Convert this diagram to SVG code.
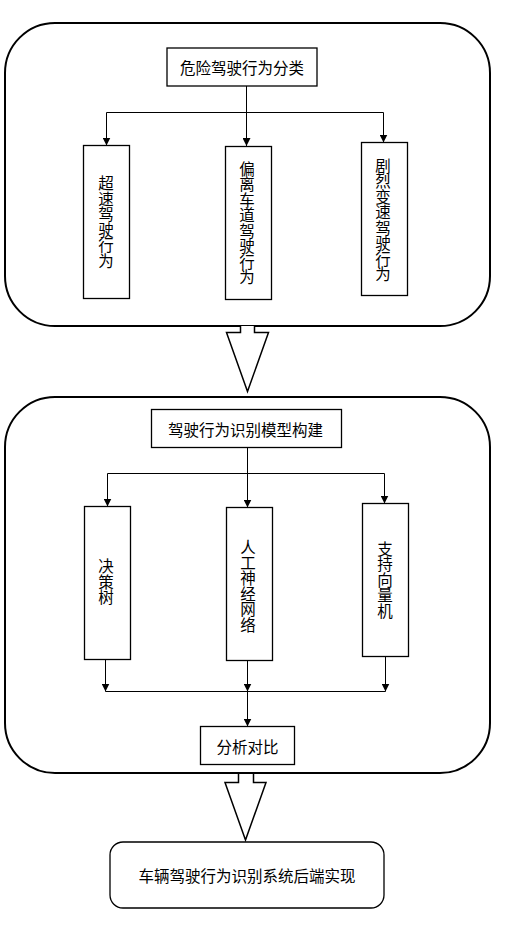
<svg xmlns="http://www.w3.org/2000/svg" width="516" height="930" viewBox="0 0 516 930">
<style>
.panel{fill:#fff;stroke:#000;stroke-width:2}
.box{fill:#fff;stroke:#000;stroke-width:1.3}
.t{font-family:"Noto Sans CJK SC","Liberation Sans",sans-serif;font-size:15.5px;fill:#000;text-anchor:middle;dominant-baseline:central}
.v{writing-mode:vertical-rl;letter-spacing:0}
.ln{fill:none;stroke:#000;stroke-width:1}
.big{fill:#fff;stroke:#000;stroke-width:1.5;stroke-linejoin:miter}
</style>
<defs>
<marker id="ah" markerWidth="8" markerHeight="8" refX="8" refY="4" orient="auto" markerUnits="userSpaceOnUse" viewBox="0 0 8 8">
<path d="M0,0 L8,4 L0,8 Z" fill="#000"/>
</marker>
</defs>
<rect width="516" height="930" fill="#fff"/>
<g id="panel1"><rect class="panel" x="5" y="23" width="485" height="303" rx="50" ry="50"/></g>
<g id="panel2"><rect class="panel" x="5" y="397" width="485" height="376" rx="50" ry="50"/></g>
<g id="n-classify"><rect class="box" x="167" y="48" width="150" height="38"/><text class="t" x="242" y="67">危险驾驶行为分类</text></g>
<g id="n-speeding"><rect class="box" x="83.5" y="145.5" width="46" height="153"/><text class="t v" x="106" y="222">超速驾驶行为</text></g>
<g id="n-lane"><rect class="box" x="225.5" y="146.5" width="46" height="153"/><text class="t v" x="247" y="223">偏离车道驾驶行为</text></g>
<g id="n-accel"><rect class="box" x="361.5" y="142.5" width="46" height="153"/><text class="t v" x="383" y="220">剧烈变速驾驶行为</text></g>
<g id="n-model"><rect class="box" x="151.5" y="409.5" width="190" height="38"/><text class="t" x="245.5" y="428.5">驾驶行为识别模型构建</text></g>
<g id="n-dt"><rect class="box" x="84.5" y="506.5" width="46" height="153"/><text class="t v" x="106" y="582">决策树</text></g>
<g id="n-ann"><rect class="box" x="226.5" y="507.5" width="46" height="153"/><text class="t v" x="248" y="586">人工神经网络</text></g>
<g id="n-svm"><rect class="box" x="362.5" y="503.5" width="46" height="153"/><text class="t v" x="385" y="580">支持向量机</text></g>
<g id="n-compare"><rect class="box" x="200.5" y="726.5" width="94" height="38"/><text class="t" x="247.5" y="745.5">分析对比</text></g>
<g id="n-backend"><rect class="box" x="110" y="842" width="274" height="66" rx="13" ry="13" stroke-width="1.6"/><text class="t" x="247" y="875">车辆驾驶行为识别系统后端实现</text></g>
<g id="connectors">
<path class="ln" d="M246.5,86 V146" marker-end="url(#ah)"/>
<path class="ln" d="M106.5,112.5 H383.5"/>
<path class="ln" d="M383.5,112.5 V142.5" marker-end="url(#ah)"/>
<path class="ln" d="M106.5,112.5 V145.5" marker-end="url(#ah)"/>
<path class="ln" d="M247.5,447.5 V507.5" marker-end="url(#ah)"/>
<path class="ln" d="M107.5,473.5 H384.5"/>
<path class="ln" d="M107.5,473.5 V506.5" marker-end="url(#ah)"/>
<path class="ln" d="M384.5,473.5 V503.5" marker-end="url(#ah)"/>
<path class="ln" d="M105.5,659.5 V691.5" marker-end="url(#ah)"/>
<path class="ln" d="M247.5,660.5 V691.5" marker-end="url(#ah)"/>
<path class="ln" d="M385.5,656.5 V691.5" marker-end="url(#ah)"/>
<path class="ln" d="M105.5,691.5 H385.5"/>
<path class="ln" d="M247.5,691.5 V726.5" marker-end="url(#ah)"/>
<path class="big" d="M240.5,326 V332.5 H226.5 L247.5,391.5 L268.5,332.5 H254.5 V326"/>
<path class="big" d="M238.5,774 V782.5 H225 L245.5,840 L266,782.5 H253.5 V774"/>
</g>
</svg>
